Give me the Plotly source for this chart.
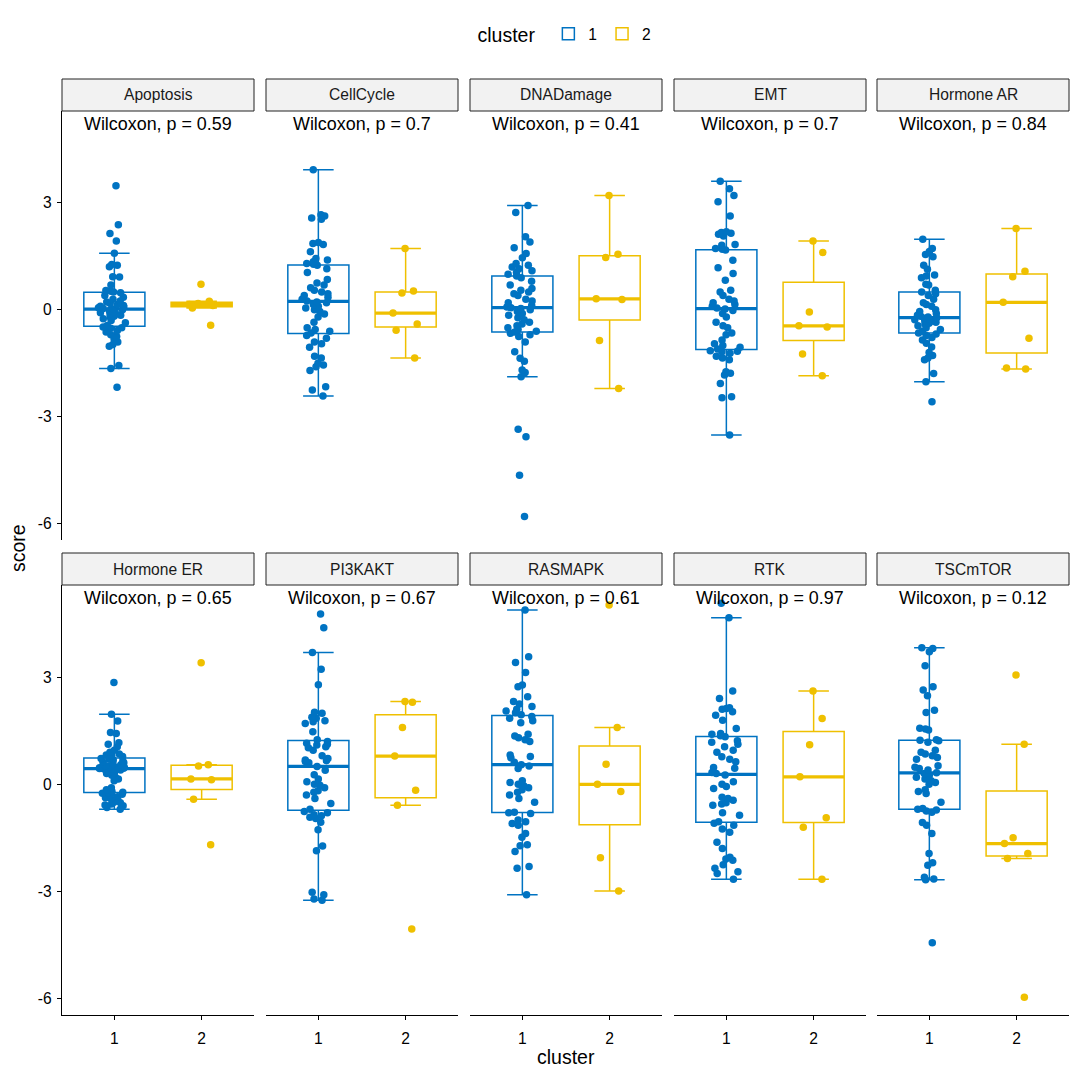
import numpy as np
import plotly.graph_objects as go

# ---------------- data ----------------
pathways = ["Apoptosis", "CellCycle", "DNADamage", "EMT", "Hormone AR",
            "Hormone ER", "PI3KAKT", "RASMAPK", "RTK", "TSCmTOR"]
p_values = ["0.59", "0.7", "0.41", "0.7", "0.84", "0.65", "0.67", "0.61", "0.97", "0.12"]
cluster_labels = ["1", "2"]
cluster_pos = [1, 2]
y_ticks = [-6, -3, 0, 3]

apoptosis_c1 = [3.48, 2.39, 2.14, 1.93, 1.59, 1.27, 1.25, 1.21, 0.93, 0.92, 0.70, 0.54, 0.52, 0.50,
                0.48, 0.40, 0.35, 0.30, 0.25, 0.22, 0.18, 0.15, 0.12, 0.10, 0.08, 0.06, 0.04, 0.02,
                0.0, -0.02, -0.05, -0.08, -0.10, -0.12, -0.15, -0.18, -0.20, -0.25, -0.30, -0.36,
                -0.44, -0.48, -0.50, -0.52, -0.58, -0.62, -0.70, -0.75, -0.82, -0.90, -0.97, -1.02,
                -1.56, -1.65, -2.17]
apoptosis_c2 = [0.72, 0.24, 0.18, 0.15, 0.12, 0.05, -0.43]

cellcycle_c1 = [3.93, 2.67, 2.63, 2.58, 2.54, 1.89, 1.86, 1.83, 1.63, 1.44, 1.40, 1.35, 1.30, 1.28,
                1.25, 1.15, 1.05, 0.85, 0.75, 0.70, 0.62, 0.55, 0.50, 0.45, 0.40, 0.35, 0.30, 0.25,
                0.22, 0.20, 0.15, 0.10, 0.05, 0.0, -0.05, -0.12, -0.20, -0.35, -0.50, -0.55, -0.60,
                -0.65, -0.72, -0.80, -0.90, -0.95, -1.05, -1.30, -1.35, -1.50, -1.55, -1.60, -1.70,
                -2.16, -2.25, -2.42]
cellcycle_c2 = [1.72, 0.53, 0.47, -0.09, -0.40, -0.57, -1.35]

dnadamage_c1 = [2.93, 2.73, 2.05, 1.90, 1.74, 1.58, 1.46, 1.30, 1.25, 1.20, 1.15, 1.10, 1.05, 1.00,
                0.95, 0.90, 0.80, 0.70, 0.60, 0.55, 0.50, 0.45, 0.40, 0.30, 0.25, 0.20, 0.12, 0.08,
                0.06, 0.04, 0.0, -0.05, -0.10, -0.15, -0.22, -0.28, -0.35, -0.40, -0.45, -0.50,
                -0.55, -0.60, -0.62, -0.66, -0.70, -0.75, -0.90, -1.18, -1.36, -1.44, -1.69, -1.76,
                -1.88, -3.35, -3.56, -4.64, -5.80]
dnadamage_c2 = [3.21, 1.56, 1.47, 0.31, 0.29, -0.86, -2.21]

emt_c1 = [3.61, 3.40, 3.21, 3.03, 2.63, 2.19, 2.17, 2.15, 2.12, 2.07, 1.83, 1.81, 1.72, 1.70, 1.68,
          1.39, 1.18, 1.02, 0.83, 0.55, 0.50, 0.40, 0.30, 0.25, 0.20, 0.15, 0.10, 0.05, 0.02,
          -0.02, -0.10, -0.20, -0.35, -0.45, -0.50, -0.65, -0.70, -0.85, -0.95, -1.00, -1.05,
          -1.10, -1.15, -1.16, -1.18, -1.22, -1.30, -1.35, -1.40, -1.74, -1.78, -1.83, -2.07,
          -2.44, -2.47, -3.51]
emt_c2 = [1.93, 1.61, -0.06, -0.45, -0.48, -1.24, -1.85]

hormone_ar_c1 = [1.98, 1.72, 1.64, 1.55, 1.49, 1.25, 1.14, 0.98, 0.95, 0.90, 0.72, 0.70, 0.55, 0.50,
                 0.45, 0.40, 0.30, 0.20, 0.15, 0.10, 0.0, -0.05, -0.10, -0.15, -0.18, -0.20, -0.22,
                 -0.24, -0.26, -0.28, -0.30, -0.32, -0.35, -0.38, -0.40, -0.45, -0.50, -0.55, -0.60,
                 -0.65, -0.68, -0.72, -0.78, -0.85, -0.94, -1.04, -1.20, -1.28, -1.35, -1.40, -1.79,
                 -2.02, -2.58]
hormone_ar_c2 = [2.28, 1.08, 0.93, 0.21, -0.80, -1.63, -1.66]

hormone_er_c1 = [2.85, 1.96, 1.77, 1.45, 1.42, 1.16, 1.12, 1.05, 0.95, 0.90, 0.85, 0.82, 0.80, 0.78,
                 0.75, 0.72, 0.70, 0.68, 0.65, 0.62, 0.60, 0.58, 0.55, 0.52, 0.50, 0.48, 0.47, 0.46,
                 0.45, 0.44, 0.43, 0.42, 0.40, 0.35, 0.32, 0.30, 0.25, 0.20, 0.15, 0.10, -0.10,
                 -0.15, -0.20, -0.22, -0.24, -0.25, -0.28, -0.30, -0.35, -0.38, -0.40, -0.45, -0.50,
                 -0.52, -0.55, -0.58, -0.60, -0.65, -0.70]
hormone_er_c2 = [3.40, 0.55, 0.51, 0.15, 0.13, -0.42, -1.69]

pi3kakt_c1 = [4.77, 4.38, 3.69, 3.22, 2.79, 2.02, 1.99, 1.88, 1.85, 1.78, 1.75, 1.70, 1.47, 1.25,
              1.20, 1.15, 1.12, 1.10, 1.05, 1.02, 0.95, 0.80, 0.72, 0.68, 0.66, 0.64, 0.60, 0.50,
              0.39, 0.27, 0.15, 0.07, 0.0, -0.03, -0.10, -0.18, -0.22, -0.30, -0.40, -0.54, -0.70,
              -0.76, -0.80, -0.85, -0.88, -0.92, -0.96, -1.06, -1.27, -1.73, -1.86, -3.02, -3.09,
              -3.21, -3.25]
pi3kakt_c2 = [2.32, 2.30, 1.59, 0.79, -0.17, -0.59, -4.05]

rasmapk_c1 = [4.88, 3.57, 3.41, 3.13, 2.78, 2.73, 2.45, 2.32, 2.25, 2.18, 2.10, 2.05, 2.00, 1.95,
              1.90, 1.85, 1.78, 1.72, 1.40, 1.35, 1.30, 1.25, 1.20, 0.82, 0.78, 0.74, 0.62, 0.55,
              0.51, 0.44, 0.10, 0.05, 0.0, -0.05, -0.10, -0.15, -0.22, -0.30, -0.40, -0.50, -0.78,
              -0.80, -0.82, -1.00, -1.05, -1.10, -1.15, -1.38, -1.48, -1.69, -1.72, -1.88, -2.30,
              -2.35, -3.09]
rasmapk_c2 = [5.02, 1.59, 0.56, 0.0, -0.20, -2.06, -2.99]

rtk_c1 = [5.07, 4.66, 2.61, 2.40, 2.14, 2.12, 2.10, 2.03, 1.93, 1.79, 1.56, 1.42, 1.40, 1.36, 1.33,
          1.22, 1.18, 1.12, 1.05, 0.95, 0.90, 0.77, 0.70, 0.63, 0.47, 0.45, 0.33, 0.30, 0.26, 0.07,
          0.0, -0.06, -0.12, -0.36, -0.40, -0.45, -0.52, -0.55, -0.59, -0.80, -0.87, -1.05, -1.09,
          -1.15, -1.25, -1.34, -1.62, -1.80, -2.04, -2.09, -2.13, -2.25, -2.35, -2.45, -2.50,
          -2.66]
rtk_c2 = [2.61, 1.84, 1.11, 0.21, -0.94, -1.20, -2.66]

tscmtor_c1 = [3.82, 3.80, 3.71, 3.32, 2.73, 2.64, 2.48, 2.07, 2.01, 1.57, 1.55, 1.52, 1.25, 1.23,
              1.22, 1.18, 0.95, 0.90, 0.85, 0.80, 0.75, 0.70, 0.52, 0.48, 0.44, 0.40, 0.32, 0.30,
              0.25, 0.20, 0.15, 0.10, 0.05, 0.0, -0.15, -0.20, -0.26, -0.50, -0.68, -0.70, -0.72,
              -0.75, -0.78, -1.07, -1.15, -1.38, -1.94, -2.20, -2.27, -2.60, -2.65, -2.67, -4.44]
tscmtor_c2 = [3.06, 1.12, -1.50, -1.66, -1.94, -2.08, -5.96]

scores = [
    (apoptosis_c1, apoptosis_c2), (cellcycle_c1, cellcycle_c2), (dnadamage_c1, dnadamage_c2),
    (emt_c1, emt_c2), (hormone_ar_c1, hormone_ar_c2), (hormone_er_c1, hormone_er_c2),
    (pi3kakt_c1, pi3kakt_c2), (rasmapk_c1, rasmapk_c2), (rtk_c1, rtk_c2), (tscmtor_c1, tscmtor_c2),
]


def box_stats(vals):
    """Tukey box statistics as ggplot2 computes them (quantile type 7)."""
    v = np.asarray(vals, dtype=float)
    q1, med, q3 = np.percentile(v, [25, 50, 75])
    iqr = q3 - q1
    lo = v[v >= q1 - 1.5 * iqr].min()
    hi = v[v <= q3 + 1.5 * iqr].max()
    return float(q1), float(med), float(q3), float(lo), float(hi)


# ---------------- styling ----------------
colors = ["#0073C2", "#EFC000"]
FONT = "Liberation Sans, Arial, Helvetica, sans-serif"
W, H = 1080, 1080
ML, MR, MT, MB = 62, 11, 79, 65
PW = W - ML - MR
PH = H - MT - MB
BOX_W = 0.7
Y_RANGE = [-6.46, 5.58]
X_RANGE = [0.4, 2.6]
TITLE_SIZE = 19.5
TICK_SIZE = 15.6
STRIP_SIZE = 15.6
LABEL_SIZE = 17.9

col_left_px = [0, 204, 408, 612, 815]
panel_w_px = 192
row_dom = [[(1015 - 540) / PH, (1015 - 111) / PH], [0.0, (1015 - 585) / PH]]
strip_h = 32

fig = go.Figure()
layout = dict(
    width=W, height=H,
    margin=dict(l=ML, r=MR, t=MT, b=MB, autoexpand=False),
    paper_bgcolor="white", plot_bgcolor="white",
    font=dict(family=FONT, color="black", size=14),
    showlegend=True,
    legend=dict(orientation="h", x=(566 - ML) / PW, xanchor="center", y=(1015 - 35) / PH,
                yanchor="middle", font=dict(size=TICK_SIZE, color="black"),
                title=dict(text="cluster ", font=dict(size=TITLE_SIZE, color="black"), side="left"),
                itemwidth=30, tracegroupgap=0),
    boxmode="overlay",
)
shapes = []
annotations = []

for k, name in enumerate(pathways):
    r, c = divmod(k, 5)
    n = k + 1
    xa = "x" if n == 1 else f"x{n}"
    ya = "y" if n == 1 else f"y{n}"
    xkey = "xaxis" if n == 1 else f"xaxis{n}"
    ykey = "yaxis" if n == 1 else f"yaxis{n}"
    x0 = col_left_px[c] / PW
    x1 = min(1.0, (col_left_px[c] + panel_w_px) / PW)
    bottom_row = (r == 1)
    left_col = (c == 0)
    layout[xkey] = dict(
        domain=[x0, x1], anchor=ya, range=X_RANGE, showgrid=False, zeroline=False,
        tickmode="array", tickvals=cluster_pos, ticktext=cluster_labels,
        showline=bottom_row, linecolor="black", linewidth=1.3,
        ticks="outside" if bottom_row else "", ticklen=4, tickcolor="black", tickwidth=1.1,
        showticklabels=bottom_row, tickfont=dict(size=TICK_SIZE, color="black"),
        ticklabelstandoff=5,
    )
    layout[ykey] = dict(
        domain=row_dom[r], anchor=xa, range=Y_RANGE, showgrid=False, zeroline=False,
        tickmode="array", tickvals=y_ticks, ticktext=[str(t) for t in y_ticks],
        showline=left_col, linecolor="black", linewidth=1.3,
        ticks="outside" if left_col else "", ticklen=4, tickcolor="black", tickwidth=1.1,
        showticklabels=left_col, tickfont=dict(size=TICK_SIZE, color="black"),
        ticklabelstandoff=2,
    )
    for j in range(2):
        vals = scores[k][j]
        q1, med, q3, lo, hi = box_stats(vals)
        # box + whiskers (ggplot-style statistics)
        fig.add_trace(go.Box(
            x=[cluster_pos[j]], q1=[q1], median=[med], q3=[q3],
            lowerfence=[lo], upperfence=[hi], width=BOX_W,
            name=cluster_labels[j], legendgroup=cluster_labels[j], showlegend=(k == 0),
            boxpoints=False, line=dict(color=colors[j], width=1.5),
            fillcolor="rgba(0,0,0,0)", xaxis=xa, yaxis=ya, hoverinfo="skip",
        ))
        # jittered sample points
        fig.add_trace(go.Box(
            y=vals, x0=cluster_pos[j], width=BOX_W, name=cluster_labels[j],
            legendgroup=cluster_labels[j], showlegend=False,
            boxpoints="all", jitter=0.57, pointpos=0,
            marker=dict(size=7.5, color=colors[j], opacity=1),
            line=dict(color="rgba(0,0,0,0)", width=0), fillcolor="rgba(0,0,0,0)",
            xaxis=xa, yaxis=ya, hoverinfo="y",
        ))
        shapes.append(dict(type="line", xref=xa, yref=ya, layer="below",
                           x0=cluster_pos[j] - BOX_W / 2, x1=cluster_pos[j] + BOX_W / 2,
                           y0=med, y1=med, line=dict(color=colors[j], width=3.2)))
    # facet strip
    ph = (row_dom[r][1] - row_dom[r][0]) * PH
    shapes.append(dict(type="rect", xref=f"{xa} domain", yref=f"{ya} domain",
                       x0=0, x1=1, y0=1, y1=1 + strip_h / ph,
                       fillcolor="#F2F2F2", line=dict(color="#222222", width=1)))
    annotations.append(dict(xref=f"{xa} domain", yref=f"{ya} domain", x=0.5,
                            y=1 + (strip_h / 2) / ph, text=name, showarrow=False,
                            xanchor="center", yanchor="middle",
                            font=dict(size=STRIP_SIZE, color="#1A1A1A")))
    annotations.append(dict(xref=f"{xa} domain", yref=f"{ya} domain", x=0.5, y=1,
                            yshift=-13, text=f"Wilcoxon, p = {p_values[k]}", showarrow=False,
                            xanchor="center", yanchor="middle",
                            font=dict(size=LABEL_SIZE, color="black")))

annotations.append(dict(xref="paper", yref="paper", x=(566 - ML) / PW, y=(1015 - 1057) / PH,
                        text="cluster", showarrow=False, xanchor="center", yanchor="middle",
                        font=dict(size=TITLE_SIZE, color="black")))
annotations.append(dict(xref="paper", yref="paper", x=(18 - ML) / PW, y=(1015 - 548) / PH,
                        text="score", showarrow=False, xanchor="center", yanchor="middle",
                        textangle=-90, font=dict(size=TITLE_SIZE, color="black")))

layout["shapes"] = shapes
layout["annotations"] = annotations
fig.update_layout(**layout)
fig.write_html("out.html", config={"displayModeBar": False},
               post_script="document.body.style.margin='0px';")
